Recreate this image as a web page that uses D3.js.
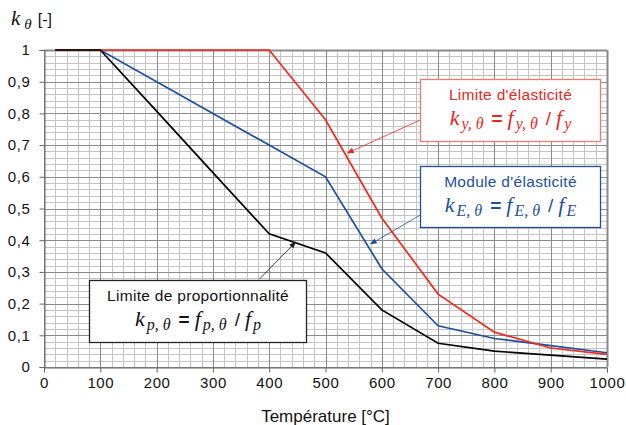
<!DOCTYPE html>
<html><head><meta charset="utf-8">
<script src="https://cdn.jsdelivr.net/npm/d3@7"></script>
<style>body{margin:0;background:#fff}svg{display:block}</style>
</head><body>
<script>
const temps = [20,100,200,300,400,500,600,700,800,900,1000];
const kY = [1,1,1,1,1,0.78,0.47,0.23,0.11,0.06,0.04];
const kE = [1,1,0.9,0.8,0.7,0.6,0.31,0.13,0.09,0.0675,0.045];
const kP = [1,1,0.807,0.613,0.42,0.36,0.18,0.075,0.05,0.0375,0.025];
const xTicks = [0,100,200,300,400,500,600,700,800,900,1000];
const yTicks = [0,0.1,0.2,0.3,0.4,0.5,0.6,0.7,0.8,0.9,1];
const yTickLabels = ["0","0,1","0,2","0,3","0,4","0,5","0,6","0,7","0,8","0,9","1"];
const xTitle = "Température [°C]";

const W=626,H=425;
const SANS="Liberation Sans, Arial, sans-serif", SERIF="Liberation Serif, Times New Roman, serif";
const svg=d3.select("body").append("svg").attr("width",W).attr("height",H);
const x=d3.scaleLinear().domain([0,1000]).range([44,607]);
const y=d3.scaleLinear().domain([0,1]).range([367,50]);
const cx=v=>Math.round(x(v))+0.5, cy=v=>Math.round(y(v))+0.5;

// grid
const g=svg.append("g");
const minorX=d3.range(0,1001,20), minorY=d3.range(0,51,1).map(i=>i/50);
minorX.forEach(v=>{ if(v%100) g.append("line").attr("x1",cx(v)).attr("x2",cx(v)).attr("y1",y(1)).attr("y2",y(0)).attr("stroke","#c4c4c4");});
minorY.forEach((v,i)=>{ if(i%5) g.append("line").attr("y1",cy(v)).attr("y2",cy(v)).attr("x1",x(0)).attr("x2",x(1000)).attr("stroke","#c4c4c4");});
xTicks.forEach(v=>g.append("line").attr("x1",cx(v)).attr("x2",cx(v)).attr("y1",y(1)).attr("y2",y(0)).attr("stroke","#8a8a8a"));
yTicks.forEach(v=>g.append("line").attr("y1",cy(v)).attr("y2",cy(v)).attr("x1",x(0)).attr("x2",x(1000)).attr("stroke","#8a8a8a"));
g.append("line").attr("x1",cx(1000)).attr("x2",cx(1000)).attr("y1",y(1)).attr("y2",y(0)).attr("stroke","#8a8a8a").attr("stroke-width",2);
g.append("line").attr("x1",x(0)).attr("x2",x(1000)).attr("y1",cy(1)).attr("y2",cy(1)).attr("stroke","#8a8a8a").attr("stroke-width",2);

// axes
const xa=svg.append("g").attr("transform",`translate(0,${cy(0)})`)
 .call(d3.axisBottom(x).tickValues(xTicks).tickSize(5).tickPadding(12).tickFormat(d=>String(d)));
const ya=svg.append("g").attr("transform",`translate(${cx(0)},0)`)
 .call(d3.axisLeft(y).tickValues(yTicks).tickSize(5).tickPadding(9).tickFormat((d,i)=>yTickLabels[i]));
[xa,ya].forEach(a=>{a.select(".domain").attr("stroke","#666");a.selectAll(".tick line").attr("stroke","#666");
 a.selectAll("text").attr("font-family",SANS).attr("font-size",15).attr("letter-spacing",0.6).attr("fill","#111");});
xa.selectAll(".tick text").attr("dy","0.25em");

// lines
const line=d3.line().x((d,i)=>x(temps[i])).y(d=>y(d));
const lw=1.7;
svg.append("path").datum(kE).attr("d",line).attr("fill","none").attr("stroke","#1d4f9f").attr("stroke-width",lw);
svg.append("path").datum(kY).attr("d",line).attr("fill","none").attr("stroke","#f2281c").attr("stroke-width",lw);
svg.append("path").datum(kP).attr("d",line).attr("fill","none").attr("stroke","#000").attr("stroke-width",lw);

// axis titles
const yl=svg.append("text").attr("x",11).attr("y",25).attr("fill","#111");
yl.append("tspan").attr("font-family",SERIF).attr("font-style","italic").attr("font-size",21).text("k");
yl.append("tspan").attr("font-family",SERIF).attr("font-style","italic").attr("font-size",15).attr("dx",4).attr("dy",4).text("θ");
yl.append("tspan").attr("font-family",SANS).attr("font-size",16).attr("dx",6).attr("dy",-4).text("[-]");
svg.append("text").attr("x",(x(0)+x(1000))/2).attr("y",422).attr("text-anchor","middle")
 .attr("font-family",SANS).attr("font-size",17).attr("fill","#111").text(xTitle);

// annotations (data coords)
const defs=svg.append("defs");
function marker(id,col){defs.append("marker").attr("id",id).attr("viewBox","0 0 10 10").attr("refX",9).attr("refY",5)
 .attr("markerWidth",7).attr("markerHeight",7).attr("markerUnits","userSpaceOnUse").attr("orient","auto")
 .append("path").attr("d","M0,1L10,5L0,9Z").attr("fill",col);}
marker("mr","#e8261e");marker("mb","#1d4f9f");marker("mk","#222");

const notes=[
 {box:[667,987,0.908,0.713],col:"#e8261e",border:"#f07a72",mk:"mr",title:"Limite d'élasticité",sub:"y,\u00a0θ",sub2:"y",arrow:[668,0.779,539,0.675]},
 {box:[667,987,0.634,0.442],col:"#1d4f9f",border:"#1d4f9f",mk:"mb",title:"Module d'élasticité",sub:"E,\u00a0θ",sub2:"E",arrow:[668,0.479,580,0.388]},
 {box:[80.5,466,0.274,0.079],col:"#111",border:"#222",mk:"mk",title:"Limite de proportionnalité",sub:"p,\u00a0θ",sub2:"p",arrow:[383,0.278,447,0.394]}
];
notes.forEach(n=>{
 svg.append("line").attr("x1",x(n.arrow[0])).attr("y1",y(n.arrow[1])).attr("x2",x(n.arrow[2])).attr("y2",y(n.arrow[3]))
  .attr("stroke",n.col).attr("stroke-width",0.8).attr("marker-end",`url(#${n.mk})`);
 const x0=Math.round(x(n.box[0]))+0.5,x1=Math.round(x(n.box[1]))+0.5,y0=Math.round(y(n.box[2]))+0.5,y1=Math.round(y(n.box[3]))+0.5;
 svg.append("rect").attr("x",x0).attr("y",y0).attr("width",x1-x0).attr("height",y1-y0).attr("fill","#fff").attr("stroke",n.border).attr("stroke-width",1.3);
 const mx=(x0+x1)/2;
 svg.append("text").attr("x",mx).attr("y",y0+20).attr("text-anchor","middle").attr("font-family",SANS)
  .attr("font-size",15.5).attr("letter-spacing",0.3).attr("fill",n.col).text(n.title);
 const t=svg.append("text").attr("x",mx).attr("y",y0+45).attr("text-anchor","middle").attr("fill",n.col);
 const ser=s=>s.attr("font-family",SERIF).attr("font-style","italic");
 ser(t.append("tspan")).attr("font-size",22).text("k");
 ser(t.append("tspan")).attr("font-size",16).attr("dx",2).attr("dy",4).text(n.sub);
 t.append("tspan").attr("font-family",SANS).attr("font-weight","bold").attr("font-size",19).attr("dx",8).attr("dy",-4).text("=");
 ser(t.append("tspan")).attr("font-size",22).attr("dx",5).text("f");
 ser(t.append("tspan")).attr("font-size",16).attr("dx",2).attr("dy",4).text(n.sub);
 t.append("tspan").attr("font-family",SANS).attr("font-size",19).attr("dx",8).attr("dy",-4).text("/");
 ser(t.append("tspan")).attr("font-size",22).attr("dx",5).text("f");
 ser(t.append("tspan")).attr("font-size",16).attr("dx",2).attr("dy",4).text(n.sub2);
});
</script>
</body></html>
